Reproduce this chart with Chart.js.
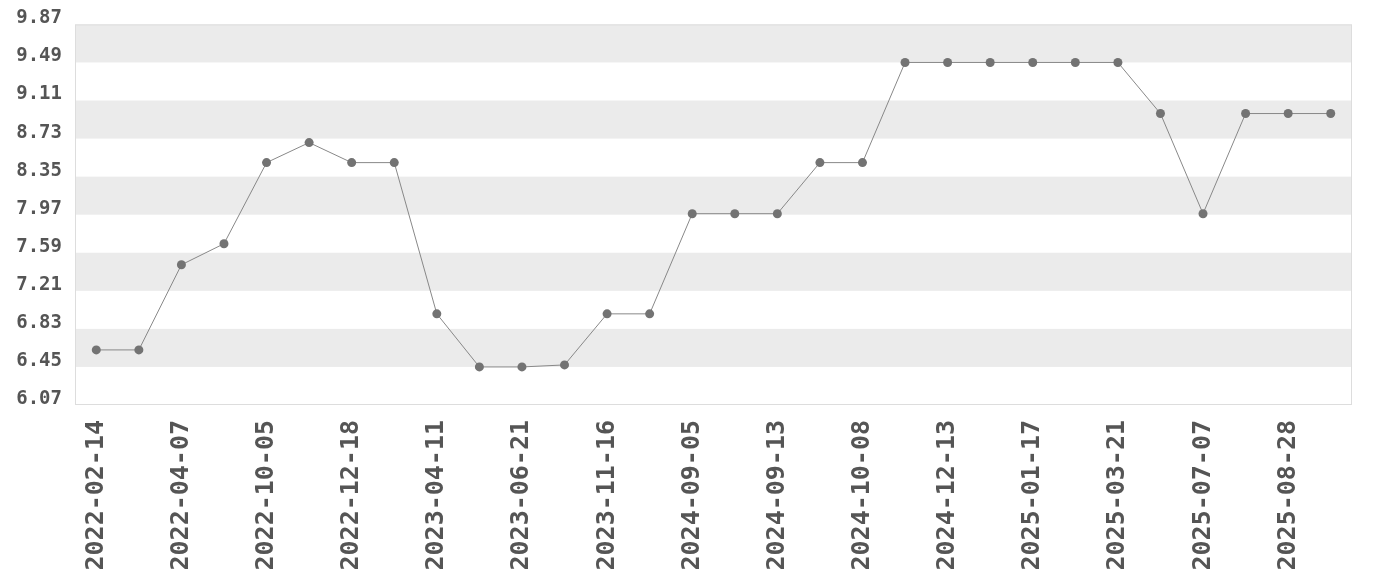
<!DOCTYPE html>
<html>
<head>
<meta charset="utf-8">
<script src="https://cdn.jsdelivr.net/npm/chart.js@4/dist/chart.umd.min.js"></script>
<style>
  html, body { margin: 0; padding: 0; background: #fff; }
  #wrap { width: 1380px; height: 580px; }
</style>
</head>
<body>
<div id="wrap"><canvas id="rateChart"></canvas></div>
<script>
const dates = [
  '2022-02-14', '2022-03-10', '2022-04-07', '2022-07-20', '2022-10-05',
  '2022-11-15', '2022-12-18', '2023-02-02', '2023-04-11', '2023-05-18',
  '2023-06-21', '2023-08-30', '2023-11-16', '2024-03-12', '2024-09-05',
  '2024-09-09', '2024-09-13', '2024-09-25', '2024-10-08', '2024-11-12',
  '2024-12-13', '2024-12-30', '2025-01-17', '2025-02-20', '2025-03-21',
  '2025-05-15', '2025-07-07', '2025-08-01', '2025-08-28', '2025-09-20'
];
const rates = [
  6.62, 6.62, 7.47, 7.68, 8.49,
  8.69, 8.49, 8.49, 6.98, 6.45,
  6.45, 6.47, 6.98, 6.98, 7.98,
  7.98, 7.98, 8.49, 8.49, 9.49,
  9.49, 9.49, 9.49, 9.49, 9.49,
  8.98, 7.98, 8.98, 8.98, 8.98
];
const yTicks = [6.07, 6.45, 6.83, 7.21, 7.59, 7.97, 8.35, 8.73, 9.11, 9.49, 9.87];

// alternating grey bands + light frame round the plot area
const bands = {
  id: 'bands',
  beforeDatasetsDraw(chart) {
    const { ctx, chartArea: a, scales: { y } } = chart;
    ctx.save();
    ctx.fillStyle = '#ebebeb';
    for (let i = yTicks.length - 1; i > 0; i -= 2) {
      const top = y.getPixelForValue(yTicks[i]);
      const bot = y.getPixelForValue(yTicks[i - 1]);
      ctx.fillRect(a.left, top, a.right - a.left, bot - top);
    }
    ctx.strokeStyle = '#dddddd';
    ctx.lineWidth = 1;
    ctx.strokeRect(a.left + 0.5, a.top + 0.5, a.right - a.left - 1, a.bottom - a.top - 1);
    ctx.restore();
  }
};

new Chart(document.getElementById('rateChart'), {
  type: 'line',
  data: {
    labels: dates,
    datasets: [{
      data: rates,
      borderColor: '#888888',
      borderWidth: 1,
      pointRadius: 4.5,
      pointBackgroundColor: '#737373',
      pointBorderColor: '#737373',
      pointBorderWidth: 0,
      tension: 0
    }]
  },
  options: {
    responsive: true,
    maintainAspectRatio: false,
    animation: false,
    layout: { padding: { left: 16, right: 28, top: 23, bottom: 0 } },
    plugins: { legend: { display: false }, tooltip: { enabled: false } },
    scales: {
      x: {
        offset: true,
        grid: { display: false },
        border: { display: false },
        afterFit(axis) { axis.height = 175; },
        ticks: {
          autoSkip: false,
          minRotation: 90,
          maxRotation: 90,
          padding: 7,
          color: '#555',
          font: { family: 'DejaVu Sans Mono', size: 25, weight: 'bold' },
          callback(v, i) { return i % 2 === 0 ? dates[i] : ''; }
        }
      },
      y: {
        min: 6.07,
        max: 9.87,
        grid: { display: false, drawTicks: false },
        border: { display: false },
        afterFit(axis) { axis.width = 59; },
        afterBuildTicks(axis) { axis.ticks = yTicks.map(v => ({ value: v })); },
        ticks: {
          padding: 13,
          labelOffset: -6,
          color: '#555',
          font: { family: 'DejaVu Sans Mono', size: 19, weight: 'bold' },
          callback(v) { return Number(v).toFixed(2); }
        }
      }
    }
  },
  plugins: [bands]
});
</script>
</body>
</html>
